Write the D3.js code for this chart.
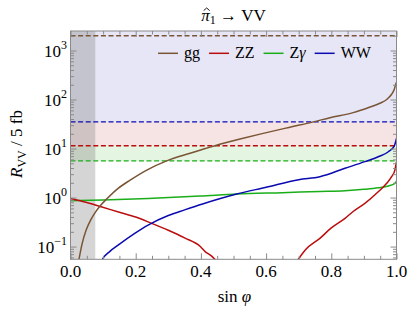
<!DOCTYPE html>
<html><head><meta charset="utf-8">
<script src="https://cdn.jsdelivr.net/npm/d3@7"></script>
<style>
body{margin:0;background:#fff}
text{font-family:"Liberation Serif","Times New Roman",Times,serif;fill:#000}
</style>
</head><body>
<svg id="c" width="415" height="312"></svg>
<script>
// ---- data ----
const seriesNames = ["gg", "ZZ", "Z\u03b3", "WW"];
const ggX = [0.026, 0.035, 0.048, 0.062, 0.076, 0.092, 0.11, 0.146, 0.183, 0.234, 0.295, 0.367, 0.443, 0.52, 0.591, 0.67, 0.745, 0.796, 0.867, 0.915, 0.949, 0.97, 0.985, 0.993, 0.997, 1.0];
const ggY = [0.055, 0.11, 0.217, 0.35, 0.5, 0.69, 0.92, 1.54, 2.27, 3.64, 5.6, 8.0, 11.4, 15.6, 20.4, 27, 35, 42.6, 54, 69, 84, 100, 128, 160, 198, 225];
const zz1X = [0.0, 0.05, 0.094, 0.15, 0.2, 0.249, 0.3, 0.35, 0.399, 0.413, 0.43, 0.443, 0.46];
const zz1Y = [0.96, 0.79, 0.65, 0.5, 0.4, 0.297, 0.215, 0.15, 0.099, 0.079, 0.066, 0.055, 0.043];
const zz2X = [0.69, 0.699, 0.72, 0.765, 0.8, 0.842, 0.867, 0.903, 0.944, 0.97, 0.985, 0.995, 1.0];
const zz2Y = [0.045, 0.055, 0.085, 0.147, 0.24, 0.377, 0.52, 0.76, 1.31, 1.95, 2.66, 3.64, 5.4];
const zgX = [0.0, 0.1, 0.238, 0.397, 0.51, 0.65, 0.765, 0.842, 0.9, 0.944, 0.975, 0.995, 1.0];
const zgY = [0.86, 0.89, 0.96, 1.07, 1.18, 1.26, 1.33, 1.38, 1.47, 1.58, 1.72, 1.95, 2.15];
const wwX = [0.09, 0.098, 0.12, 0.146, 0.197, 0.238, 0.3, 0.35, 0.405, 0.51, 0.6, 0.7, 0.765, 0.842, 0.903, 0.944, 0.975, 0.993, 1.0];
const wwY = [0.042, 0.055, 0.079, 0.107, 0.186, 0.275, 0.43, 0.56, 0.74, 1.18, 1.62, 2.32, 2.66, 3.95, 5.4, 6.8, 8.6, 11.2, 16];
// horizontal dashed limits: gg, WW, ZZ, Zγ
const limitVals = [2000, 35, 11.4, 5.6];
const excludedX = [0, 0.076];
const xTicks = [0, 0.2, 0.4, 0.6, 0.8, 1.0];
const xTickLabels = ["0.0", "0.2", "0.4", "0.6", "0.8", "1.0"];
const yTickExps = [-1, 0, 1, 2, 3];
const xDomain = [0, 1];
const yDomain = [0.055, 2500];

// ---- styling ----
const C = {gg:"#7a5535", zz:"#bb0d0d", zg:"#1aae1a", ww:"#0a0ab0"};
const L = 70.5, R = 396.5, T = 31, B = 259.3;

const svg = d3.select("#c");
const x = d3.scaleLinear(xDomain, [L, R]);
const y = d3.scaleLog(yDomain, [B, T]);

svg.append("defs").append("clipPath").attr("id","clip")
  .append("rect").attr("x",L).attr("y",T).attr("width",R-L).attr("height",B-T);

const plot = svg.append("g").attr("clip-path","url(#clip)");

// shaded bands
const bands = [
  {lo: limitVals[1], hi: yDomain[1], fill: "#e6e6f6"},
  {lo: limitVals[2], hi: limitVals[1], fill: "#f6e4e4"},
  {lo: limitVals[3], hi: limitVals[2], fill: "#e4f5e1"}
];
plot.selectAll("rect.band").data(bands).join("rect").attr("class","band")
  .attr("x", L).attr("width", R-L)
  .attr("y", d => y(d.hi)).attr("height", d => y(d.lo) - y(d.hi))
  .attr("fill", d => d.fill);

// excluded gray region
plot.append("rect")
  .attr("x", x(excludedX[0])).attr("width", x(excludedX[1]) - x(excludedX[0]))
  .attr("y", T).attr("height", B - T)
  .attr("fill", "#808080").attr("fill-opacity", 0.33);

// dashed limits
const limColors = [C.gg, C.ww, C.zz, C.zg];
plot.selectAll("line.lim").data(limitVals).join("line").attr("class","lim")
  .attr("x1", L).attr("x2", R)
  .attr("y1", d => y(d)).attr("y2", d => y(d))
  .attr("stroke", (d,i) => limColors[i]).attr("stroke-width", 1.4)
  .attr("stroke-dasharray", "5,2.6");

// curves
const line = d3.line().x(d => x(d[0])).y(d => y(d[1])).curve(d3.curveMonotoneX);
const zip = (a, b) => a.map((v, i) => [v, b[i]]);
const curves = [
  {pts: zip(zgX, zgY), c: C.zg},
  {pts: zip(zz1X, zz1Y), c: C.zz},
  {pts: zip(zz2X, zz2Y), c: C.zz},
  {pts: zip(wwX, wwY), c: C.ww},
  {pts: zip(ggX, ggY), c: C.gg}
];
plot.selectAll("path.curve").data(curves).join("path").attr("class","curve")
  .attr("d", d => line(d.pts)).attr("fill","none")
  .attr("stroke", d => d.c).attr("stroke-width", 1.5);

// frame & ticks
const axisColor = "#8a8a8a";
const minorX = d3.range(0, 1.0001, 0.05).filter(v => !xTicks.some(t => Math.abs(t - v) < 1e-6));
const minorY = [];
for (let e = -2; e <= 3; e++) for (let m = 2; m <= 9; m++) {
  const v = m * Math.pow(10, e);
  if (v >= yDomain[0] && v <= yDomain[1]) minorY.push(v);
}
const majorY = yTickExps.map(e => Math.pow(10, e));

function styleAxis(g){
  g.select(".domain").remove();
  g.selectAll(".tick line").attr("stroke", axisColor);
  g.selectAll("text").remove();
}
svg.append("g").attr("transform", `translate(0,${B})`)
  .call(d3.axisBottom(x).tickValues(xTicks).tickSize(-6)).call(styleAxis);
svg.append("g").attr("transform", `translate(0,${B})`)
  .call(d3.axisBottom(x).tickValues(minorX).tickSize(-3.5)).call(styleAxis);
svg.append("g").attr("transform", `translate(0,${T})`)
  .call(d3.axisTop(x).tickValues(xTicks).tickSize(-6)).call(styleAxis);
svg.append("g").attr("transform", `translate(0,${T})`)
  .call(d3.axisTop(x).tickValues(minorX).tickSize(-3.5)).call(styleAxis);
svg.append("g").attr("transform", `translate(${L},0)`)
  .call(d3.axisLeft(y).tickValues(majorY).tickSize(-6)).call(styleAxis);
svg.append("g").attr("transform", `translate(${L},0)`)
  .call(d3.axisLeft(y).tickValues(minorY).tickSize(-3.5)).call(styleAxis);
svg.append("g").attr("transform", `translate(${R},0)`)
  .call(d3.axisRight(y).tickValues(majorY).tickSize(-6)).call(styleAxis);
svg.append("g").attr("transform", `translate(${R},0)`)
  .call(d3.axisRight(y).tickValues(minorY).tickSize(-3.5)).call(styleAxis);

svg.append("rect").attr("x", L).attr("y", T).attr("width", R-L).attr("height", B-T)
  .attr("fill","none").attr("stroke", axisColor).attr("stroke-width", 1);

// x tick labels
svg.selectAll("text.xt").data(xTicks).join("text").attr("class","xt")
  .attr("x", d => x(d)).attr("y", B + 18).attr("text-anchor","middle")
  .attr("font-size", 17).text((d,i) => xTickLabels[i]);

// y tick labels
const yl = svg.selectAll("text.yt").data(yTickExps).join("text").attr("class","yt")
  .attr("x", 67).attr("y", d => y(Math.pow(10, d)) + 6).attr("text-anchor","end")
  .attr("font-size", 17);
yl.append("tspan").text("10");
yl.append("tspan").attr("font-size", 12).attr("dy", -8)
  .text(d => d < 0 ? "\u2212" + Math.abs(d) : String(d));

// title
const titleY = 20.5;
const title = svg.append("text").attr("x", (L+R)/2).attr("y", titleY)
  .attr("text-anchor","middle").attr("font-size", 17);
title.append("tspan").attr("font-style","italic").text("\u03c0");
title.append("tspan").attr("font-size", 12).attr("dy", 3.5).text("1");
title.append("tspan").attr("dy", -3.5).text(" \u2192 VV");
// hat over pi drawn as a small path
const piBox = title.node().getExtentOfChar(0);
const hx = piBox.x + piBox.width/2 + 1.2, hy = titleY - 12.5;
svg.append("path")
  .attr("d", `M${hx-3},${hy+2.6} L${hx},${hy} L${hx+3},${hy+2.6}`)
  .attr("fill","none").attr("stroke","#000").attr("stroke-width", 0.9);

// x label
const xl = svg.append("text").attr("x", (L+R)/2 + 1).attr("y", 301.5)
  .attr("text-anchor","middle").attr("font-size", 17);
xl.append("tspan").text("sin ");
xl.append("tspan").attr("font-style","italic").text("\u03c6");

// y label
const ylab = svg.append("text").attr("transform", `translate(22,${144}) rotate(-90)`)
  .attr("text-anchor","middle").attr("font-size", 17);
ylab.append("tspan").attr("font-style","italic").text("R");
ylab.append("tspan").attr("font-size", 12).attr("dy", 4).text("VV");
ylab.append("tspan").attr("dy", -4).text(" / 5 fb");

// legend
const legColors = [C.gg, C.zz, C.zg, C.ww];
let lx = 158;
const ly = 53.3;
seriesNames.forEach((name, i) => {
  svg.append("line").attr("x1", lx).attr("x2", lx + 20).attr("y1", ly).attr("y2", ly)
    .attr("stroke", legColors[i]).attr("stroke-width", 1.5);
  const t = svg.append("text").attr("x", lx + 26).attr("y", ly + 5).attr("font-size", 16);
  if (name === "Z\u03b3") {
    t.append("tspan").text("Z");
    t.append("tspan").attr("font-style","italic").text("\u03b3");
  } else t.text(name);
  lx += 26 + t.node().getComputedTextLength() + 9;
});
</script>
</body></html>
